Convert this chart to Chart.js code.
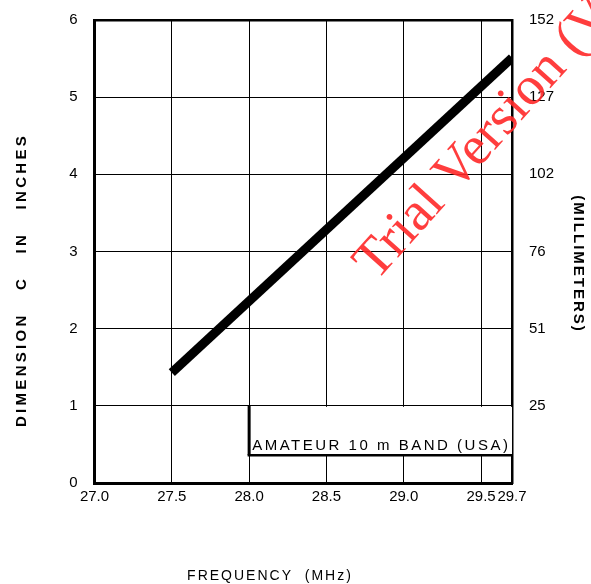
<!DOCTYPE html>
<html>
<head>
<meta charset="utf-8">
<script src="https://cdn.jsdelivr.net/npm/chart.js@4/dist/chart.umd.min.js"></script>
<style>
html,body{margin:0;padding:0;background:#fff;}
#wrap{width:591px;height:584px;position:relative;}
</style>
</head>
<body>
<div id="wrap"><canvas id="c" width="591" height="584"></canvas></div>
<script>
// ---- data ----
const frequencyMHz = [27.5, 29.7];
const dimensionInches = [1.43, 5.51];
const xTickValues = [27.0, 27.5, 28.0, 28.5, 29.0, 29.5, 29.7];
const xTickLabels = ['27.0', '27.5', '28.0', '28.5', '29.0', '29.5', '29.7'];
const yTickValues = [0, 1, 2, 3, 4, 5, 6];
const yTickLabels = ['0', '1', '2', '3', '4', '5', '6'];
const mmTickLabels = ['', '25', '51', '76', '102', '127', '152'];
const bandStart = 28.0;
const bandEnd = 29.7;
const bandTop = 1.0;
const bandBottom = 0.36;
const bandLabel = 'AMATEUR 10 m BAND (USA)';
const xTitle = 'FREQUENCY  (MHz)';
const yTitle = 'DIMENSION   C   IN   INCHES';
const y2Title = '(MILLIMETERS)';
const watermark = 'Trial Version (Visit';

const FONT = '"Liberation Sans", Arial, sans-serif';

const overlay = {
  id: 'overlay',
  afterDatasetsDraw(chart) {
    const {ctx, scales} = chart;
    const x = scales.x, y = scales.y;
    const l = x.getPixelForValue(bandStart), r = x.getPixelForValue(bandEnd);
    const t = y.getPixelForValue(bandTop), b = y.getPixelForValue(bandBottom);
    ctx.save();
    ctx.fillStyle = '#fff';
    ctx.fillRect(l, t + 1, r - l, b - t - 1);
    ctx.strokeStyle = '#000';
    ctx.lineWidth = 3;
    ctx.beginPath(); ctx.moveTo(l, t); ctx.lineTo(l, b); ctx.stroke();
    ctx.lineWidth = 2.5;
    ctx.beginPath(); ctx.moveTo(l - 1.5, b); ctx.lineTo(r, b); ctx.stroke();
    // label
    ctx.fillStyle = '#000';
    ctx.font = '15px ' + FONT;
    ctx.textBaseline = 'alphabetic';
    ctx.textAlign = 'left';
    const avail = r - l - 7;
    ctx.letterSpacing = '0px';
    const w = ctx.measureText(bandLabel).width;
    const ls = (avail - w) / (bandLabel.length - 1);
    ctx.letterSpacing = ls.toFixed(2) + 'px';
    ctx.fillText(bandLabel, l + 3, b - 5);
    ctx.restore();
  },
  afterDraw(chart) {
    const {ctx} = chart;
    ctx.save();
    ctx.fillStyle = '#000';
    // x title
    ctx.font = '14px ' + FONT;
    ctx.letterSpacing = '2px';
    ctx.textAlign = 'center';
    ctx.textBaseline = 'middle';
    ctx.fillText(xTitle, 270, 576);
    // y title
    ctx.save();
    ctx.translate(22, 280);
    ctx.rotate(-Math.PI / 2);
    ctx.font = 'bold 15px ' + FONT;
    ctx.letterSpacing = '3.3px';
    ctx.fillText(yTitle, 0, 0);
    ctx.restore();
    // y2 title
    ctx.save();
    ctx.translate(578, 264);
    ctx.rotate(Math.PI / 2);
    ctx.font = 'bold 15px ' + FONT;
    ctx.letterSpacing = '2px';
    ctx.fillText(y2Title, 0, 0);
    ctx.restore();
    // watermark
    ctx.save();
    ctx.translate(376, 282);
    ctx.rotate(-48 * Math.PI / 180);
    ctx.font = '55px "Liberation Serif", "Times New Roman", serif';
    ctx.letterSpacing = '0px';
    ctx.textAlign = 'left';
    ctx.textBaseline = 'alphabetic';
    ctx.fillStyle = 'rgba(255,40,40,0.9)';
    ctx.fillText(watermark, 0, 0);
    ctx.restore();
    ctx.restore();
  }
};

function noVPad(s) { s.paddingTop = 0; s.paddingBottom = 0; }

new Chart(document.getElementById('c'), {
  type: 'scatter',
  data: {
    datasets: [{
      data: frequencyMHz.map((f, i) => ({x: f, y: dimensionInches[i]})),
      showLine: true,
      borderColor: '#000',
      borderWidth: 9,
      borderCapStyle: 'butt',
      pointRadius: 0,
      yAxisID: 'y'
    }]
  },
  options: {
    responsive: false,
    animation: false,
    devicePixelRatio: 1,
    layout: {padding: {top: 20, left: 0, right: 0, bottom: 0}},
    plugins: {legend: {display: false}, tooltip: {enabled: false}},
    scales: {
      x: {
        type: 'linear', min: 27.0, max: 29.7,
        afterBuildTicks(s) { s.ticks = xTickValues.map(v => ({value: v})); },
        afterFit(s) { s.height = 101; s.paddingLeft = 0; s.paddingRight = 0; },
        ticks: {
          autoSkip: false, maxRotation: 0, color: '#000', padding: 5,
          font: {family: FONT, size: 15},
          callback(v) { const i = xTickValues.indexOf(v); return i >= 0 ? xTickLabels[i] : ''; }
        },
        grid: {color: '#000', lineWidth: 1, drawTicks: false},
        border: {color: '#000', width: 3}
      },
      y: {
        type: 'linear', position: 'left', min: 0, max: 6,
        afterBuildTicks(s) { s.ticks = yTickValues.map(v => ({value: v})); },
        afterFit(s) { s.width = 94.5; noVPad(s); },
        ticks: {
          color: '#000', padding: 17,
          font: {family: FONT, size: 15},
          callback(v) { const i = yTickValues.indexOf(v); return i >= 0 ? yTickLabels[i] : ''; }
        },
        grid: {color: '#000', lineWidth: (c) => c.tick && c.tick.value === 6 ? 2.5 : 1, drawTicks: false},
        border: {color: '#000', width: 3}
      },
      y2: {
        type: 'linear', position: 'right', min: 0, max: 6,
        afterBuildTicks(s) { s.ticks = yTickValues.map(v => ({value: v})); },
        afterFit(s) { s.width = 79; noVPad(s); },
        ticks: {
          color: '#000', padding: 17,
          font: {family: FONT, size: 15},
          callback(v) { const i = yTickValues.indexOf(v); return i >= 0 ? mmTickLabels[i] : ''; }
        },
        grid: {display: false, drawTicks: false},
        border: {color: '#000', width: 2.5}
      }
    }
  },
  plugins: [overlay]
});
</script>
</body>
</html>
